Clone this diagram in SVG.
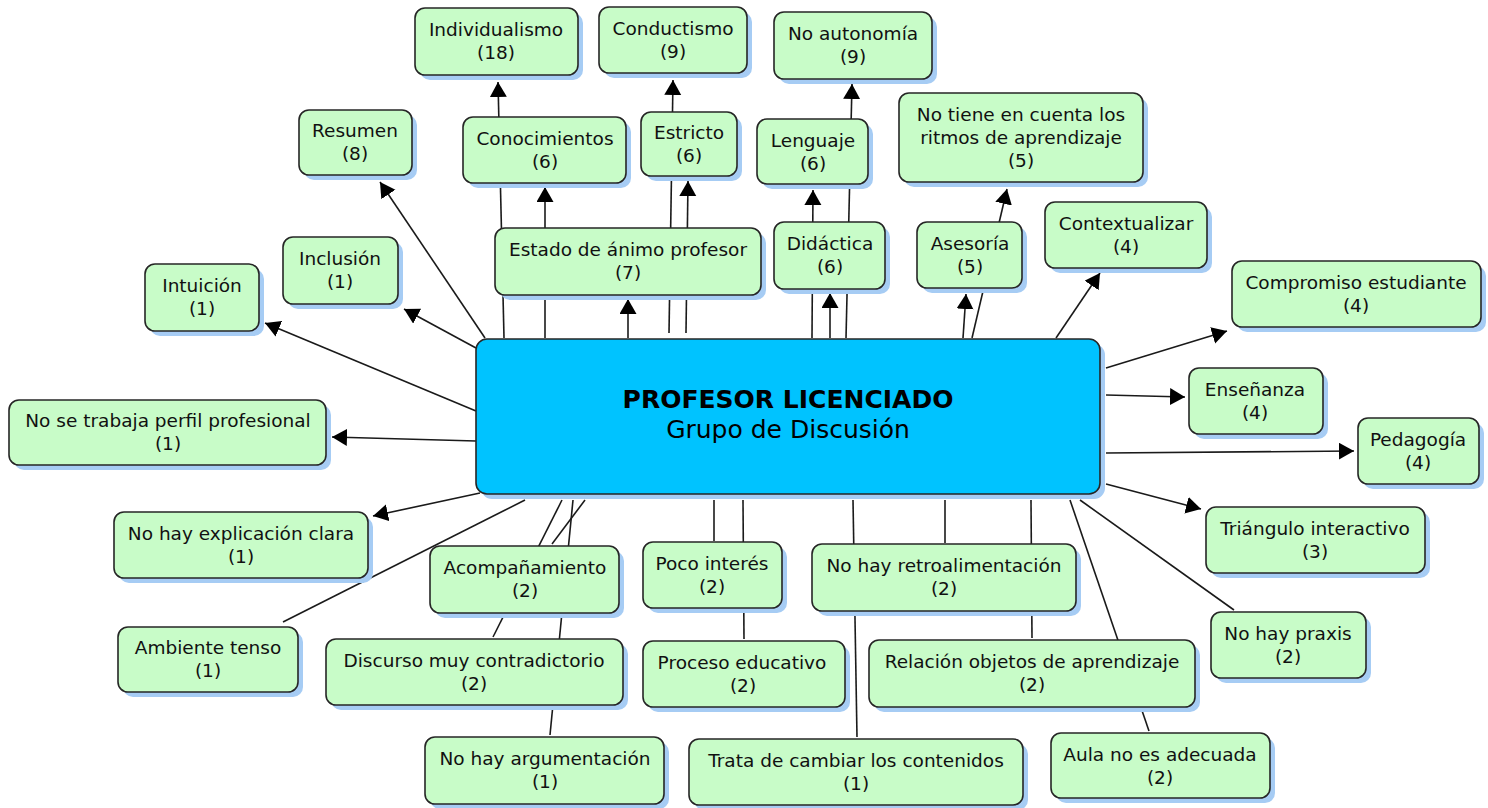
<svg xmlns="http://www.w3.org/2000/svg" width="1488" height="808" viewBox="0 0 1488 808">
<style>
.sh{fill:#a6ccf4}
.bx{fill:#c8fcc8;stroke:#262626;stroke-width:1.6}
.cbx{fill:#00c3ff;stroke:#262626;stroke-width:1.6}
.t{font-family:"DejaVu Sans",Verdana,sans-serif;font-size:18.5px;fill:#111;text-anchor:middle}
.ct{font-family:"DejaVu Sans",Verdana,sans-serif;font-size:25px;fill:#000;text-anchor:middle}
.ln{stroke:#1a1a1a;stroke-width:1.6;fill:none}
.ar{stroke:#1a1a1a;stroke-width:1.6;fill:none;marker-end:url(#ah)}
</style>
<defs>
<marker id="ah" markerUnits="userSpaceOnUse" markerWidth="16" markerHeight="18" refX="15" refY="8.5" orient="auto">
<path d="M0,0 L15,8.5 L0,17 z" fill="#000"/>
</marker>
</defs>
<rect width="1488" height="808" fill="#fff"/>
<g id="connectors">
<line class="ar" x1="504" y1="338" x2="498" y2="82"/>
<line class="ar" x1="545" y1="338" x2="545" y2="187"/>
<line class="ar" x1="628" y1="338" x2="628" y2="299"/>
<line class="ar" x1="669" y1="333" x2="673" y2="80"/>
<line class="ar" x1="686" y1="333" x2="688" y2="181"/>
<line class="ar" x1="812" y1="338" x2="813" y2="190"/>
<line class="ar" x1="830" y1="338" x2="830" y2="293"/>
<line class="ar" x1="846" y1="338" x2="852" y2="84"/>
<line class="ar" x1="963" y1="338" x2="966" y2="294"/>
<line class="ar" x1="972" y1="338" x2="1007" y2="189"/>
<line class="ar" x1="1056" y1="338" x2="1100" y2="273"/>
<line class="ar" x1="1106" y1="368" x2="1227" y2="331"/>
<line class="ar" x1="1106" y1="395" x2="1185" y2="397"/>
<line class="ar" x1="1106" y1="453" x2="1354" y2="451"/>
<line class="ar" x1="1106" y1="484" x2="1201" y2="509"/>
<line class="ar" x1="485" y1="338" x2="380" y2="182"/>
<line class="ar" x1="476" y1="348" x2="404" y2="309"/>
<line class="ar" x1="476" y1="411" x2="265" y2="323"/>
<line class="ar" x1="476" y1="441" x2="332" y2="437"/>
<line class="ar" x1="480" y1="493" x2="373" y2="516"/>
<line class="ln" x1="525" y1="500" x2="283" y2="622"/>
<line class="ln" x1="562" y1="500" x2="493" y2="637"/>
<line class="ln" x1="573" y1="500" x2="550" y2="735"/>
<line class="ln" x1="585" y1="500" x2="552" y2="544"/>
<line class="ln" x1="714" y1="500" x2="714" y2="541"/>
<line class="ln" x1="743" y1="500" x2="744" y2="639"/>
<line class="ln" x1="853" y1="500" x2="857" y2="737"/>
<line class="ln" x1="945" y1="500" x2="945" y2="543"/>
<line class="ln" x1="1031" y1="500" x2="1032" y2="638"/>
<line class="ln" x1="1070" y1="500" x2="1149" y2="731"/>
<line class="ln" x1="1080" y1="500" x2="1234" y2="610"/>
</g>
<g id="center">
<rect class="sh" x="481" y="344" width="624" height="155" rx="11"/>
<rect class="cbx" x="476" y="339" width="624" height="155" rx="11"/>
<text class="ct" x="788" y="408" font-weight="bold">PROFESOR LICENCIADO</text>
<text class="ct" x="788" y="438">Grupo de Discusión</text>
</g>
<g id="individualismo">
<rect class="sh" x="420" y="13" width="163" height="67" rx="10"/>
<rect class="bx" x="415" y="8" width="163" height="67" rx="10"/>
<text class="t" x="496" y="36">Individualismo</text><text class="t" x="496" y="59">(18)</text>
</g>
<g id="conductismo">
<rect class="sh" x="604" y="12" width="148" height="66" rx="10"/>
<rect class="bx" x="599" y="7" width="148" height="66" rx="10"/>
<text class="t" x="673" y="35">Conductismo</text><text class="t" x="673" y="58">(9)</text>
</g>
<g id="no-autonomia">
<rect class="sh" x="779" y="17" width="158" height="67" rx="10"/>
<rect class="bx" x="774" y="12" width="158" height="67" rx="10"/>
<text class="t" x="853" y="40">No autonomía</text><text class="t" x="853" y="63">(9)</text>
</g>
<g id="resumen">
<rect class="sh" x="304" y="115" width="113" height="65" rx="10"/>
<rect class="bx" x="299" y="110" width="113" height="65" rx="10"/>
<text class="t" x="355" y="137">Resumen</text><text class="t" x="355" y="160">(8)</text>
</g>
<g id="conocimientos">
<rect class="sh" x="468" y="122" width="163" height="66" rx="10"/>
<rect class="bx" x="463" y="117" width="163" height="66" rx="10"/>
<text class="t" x="545" y="145">Conocimientos</text><text class="t" x="545" y="168">(6)</text>
</g>
<g id="estricto">
<rect class="sh" x="646" y="117" width="96" height="64" rx="10"/>
<rect class="bx" x="641" y="112" width="96" height="64" rx="10"/>
<text class="t" x="689" y="139">Estricto</text><text class="t" x="689" y="162">(6)</text>
</g>
<g id="lenguaje">
<rect class="sh" x="762" y="124" width="111" height="65" rx="10"/>
<rect class="bx" x="757" y="119" width="111" height="65" rx="10"/>
<text class="t" x="813" y="147">Lenguaje</text><text class="t" x="813" y="170">(6)</text>
</g>
<g id="no-tiene">
<rect class="sh" x="904" y="98" width="244" height="89" rx="10"/>
<rect class="bx" x="899" y="93" width="244" height="89" rx="10"/>
<text class="t" x="1021" y="121">No tiene en cuenta los</text><text class="t" x="1021" y="144">ritmos de aprendizaje</text><text class="t" x="1021" y="167">(5)</text>
</g>
<g id="inclusion">
<rect class="sh" x="288" y="242" width="115" height="67" rx="10"/>
<rect class="bx" x="283" y="237" width="115" height="67" rx="10"/>
<text class="t" x="340" y="265">Inclusión</text><text class="t" x="340" y="288">(1)</text>
</g>
<g id="intuicion">
<rect class="sh" x="150" y="269" width="114" height="67" rx="10"/>
<rect class="bx" x="145" y="264" width="114" height="67" rx="10"/>
<text class="t" x="202" y="292">Intuición</text><text class="t" x="202" y="315">(1)</text>
</g>
<g id="estado-animo">
<rect class="sh" x="500" y="233" width="266" height="67" rx="10"/>
<rect class="bx" x="495" y="228" width="266" height="67" rx="10"/>
<text class="t" x="628" y="256">Estado de ánimo profesor</text><text class="t" x="628" y="279">(7)</text>
</g>
<g id="didactica">
<rect class="sh" x="779" y="227" width="111" height="67" rx="10"/>
<rect class="bx" x="774" y="222" width="111" height="67" rx="10"/>
<text class="t" x="830" y="250">Didáctica</text><text class="t" x="830" y="273">(6)</text>
</g>
<g id="asesoria">
<rect class="sh" x="922" y="227" width="105" height="66" rx="10"/>
<rect class="bx" x="917" y="222" width="105" height="66" rx="10"/>
<text class="t" x="970" y="250">Asesoría</text><text class="t" x="970" y="273">(5)</text>
</g>
<g id="contextualizar">
<rect class="sh" x="1050" y="207" width="162" height="66" rx="10"/>
<rect class="bx" x="1045" y="202" width="162" height="66" rx="10"/>
<text class="t" x="1126" y="230">Contextualizar</text><text class="t" x="1126" y="253">(4)</text>
</g>
<g id="compromiso">
<rect class="sh" x="1237" y="266" width="249" height="66" rx="10"/>
<rect class="bx" x="1232" y="261" width="249" height="66" rx="10"/>
<text class="t" x="1356" y="289">Compromiso estudiante</text><text class="t" x="1356" y="312">(4)</text>
</g>
<g id="ensenanza">
<rect class="sh" x="1194" y="373" width="134" height="66" rx="10"/>
<rect class="bx" x="1189" y="368" width="134" height="66" rx="10"/>
<text class="t" x="1255" y="396">Enseñanza</text><text class="t" x="1255" y="419">(4)</text>
</g>
<g id="pedagogia">
<rect class="sh" x="1363" y="423" width="121" height="66" rx="10"/>
<rect class="bx" x="1358" y="418" width="121" height="66" rx="10"/>
<text class="t" x="1418" y="446">Pedagogía</text><text class="t" x="1418" y="469">(4)</text>
</g>
<g id="triangulo">
<rect class="sh" x="1211" y="512" width="219" height="66" rx="10"/>
<rect class="bx" x="1206" y="507" width="219" height="66" rx="10"/>
<text class="t" x="1315" y="535">Triángulo interactivo</text><text class="t" x="1315" y="558">(3)</text>
</g>
<g id="no-praxis">
<rect class="sh" x="1216" y="617" width="155" height="66" rx="10"/>
<rect class="bx" x="1211" y="612" width="155" height="66" rx="10"/>
<text class="t" x="1288" y="640">No hay praxis</text><text class="t" x="1288" y="663">(2)</text>
</g>
<g id="aula">
<rect class="sh" x="1056" y="738" width="219" height="65" rx="10"/>
<rect class="bx" x="1051" y="733" width="219" height="65" rx="10"/>
<text class="t" x="1160" y="761">Aula no es adecuada</text><text class="t" x="1160" y="784">(2)</text>
</g>
<g id="relacion">
<rect class="sh" x="874" y="645" width="326" height="67" rx="10"/>
<rect class="bx" x="869" y="640" width="326" height="67" rx="10"/>
<text class="t" x="1032" y="668">Relación objetos de aprendizaje</text><text class="t" x="1032" y="691">(2)</text>
</g>
<g id="no-retro">
<rect class="sh" x="817" y="549" width="264" height="67" rx="10"/>
<rect class="bx" x="812" y="544" width="264" height="67" rx="10"/>
<text class="t" x="944" y="572">No hay retroalimentación</text><text class="t" x="944" y="595">(2)</text>
</g>
<g id="trata">
<rect class="sh" x="694" y="744" width="334" height="66" rx="10"/>
<rect class="bx" x="689" y="739" width="334" height="66" rx="10"/>
<text class="t" x="856" y="767">Trata de cambiar los contenidos</text><text class="t" x="856" y="790">(1)</text>
</g>
<g id="proceso">
<rect class="sh" x="648" y="646" width="202" height="66" rx="10"/>
<rect class="bx" x="643" y="641" width="202" height="66" rx="10"/>
<text class="t" x="742" y="669">Proceso educativo</text><text class="t" x="743" y="692">(2)</text>
</g>
<g id="poco-interes">
<rect class="sh" x="648" y="547" width="139" height="66" rx="10"/>
<rect class="bx" x="643" y="542" width="139" height="66" rx="10"/>
<text class="t" x="712" y="570">Poco interés</text><text class="t" x="712" y="593">(2)</text>
</g>
<g id="acompanamiento">
<rect class="sh" x="435" y="551" width="189" height="67" rx="10"/>
<rect class="bx" x="430" y="546" width="189" height="67" rx="10"/>
<text class="t" x="525" y="574">Acompañamiento</text><text class="t" x="525" y="597">(2)</text>
</g>
<g id="discurso">
<rect class="sh" x="331" y="644" width="297" height="66" rx="10"/>
<rect class="bx" x="326" y="639" width="297" height="66" rx="10"/>
<text class="t" x="474" y="667">Discurso muy contradictorio</text><text class="t" x="474" y="690">(2)</text>
</g>
<g id="no-argumentacion">
<rect class="sh" x="430" y="742" width="239" height="67" rx="10"/>
<rect class="bx" x="425" y="737" width="239" height="67" rx="10"/>
<text class="t" x="545" y="765">No hay argumentación</text><text class="t" x="545" y="788">(1)</text>
</g>
<g id="ambiente">
<rect class="sh" x="123" y="632" width="180" height="65" rx="10"/>
<rect class="bx" x="118" y="627" width="180" height="65" rx="10"/>
<text class="t" x="208" y="654">Ambiente tenso</text><text class="t" x="208" y="677">(1)</text>
</g>
<g id="no-explicacion">
<rect class="sh" x="119" y="517" width="254" height="66" rx="10"/>
<rect class="bx" x="114" y="512" width="254" height="66" rx="10"/>
<text class="t" x="241" y="540">No hay explicación clara</text><text class="t" x="241" y="563">(1)</text>
</g>
<g id="no-se-trabaja">
<rect class="sh" x="14" y="405" width="317" height="65" rx="10"/>
<rect class="bx" x="9" y="400" width="317" height="65" rx="10"/>
<text class="t" x="168" y="427">No se trabaja perfil profesional</text><text class="t" x="168" y="450">(1)</text>
</g>
</svg>
